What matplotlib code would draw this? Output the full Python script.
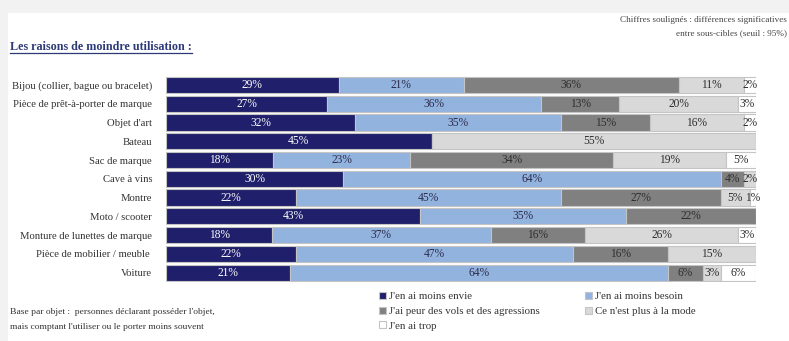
import matplotlib
matplotlib.use("Agg")
import matplotlib.pyplot as plt
from matplotlib.patches import Rectangle
from matplotlib.lines import Line2D
import numpy as np

categories = [
    "Bijou (collier, bague ou bracelet)",
    "Pièce de prêt-à-porter de marque",
    "Objet d'art",
    "Bateau",
    "Sac de marque",
    "Cave à vins",
    "Montre",
    "Moto / scooter",
    "Monture de lunettes de marque",
    "Pièce de mobilier / meuble ",
    "Voiture",
]
series_names = [
    "J'en ai moins envie",
    "J'en ai moins besoin",
    "J'ai peur des vols et des agressions",
    "Ce n'est plus à la mode",
    "J'en ai trop",
]
envie = [29, 27, 32, 45, 18, 30, 22, 43, 18, 22, 21]
besoin = [21, 36, 35, 0, 23, 64, 45, 35, 37, 47, 64]
peur = [36, 13, 15, 0, 34, 4, 27, 22, 16, 16, 6]
mode = [11, 20, 16, 55, 19, 2, 5, 0, 26, 15, 3]
trop = [2, 3, 2, 0, 5, 0, 1, 0, 3, 0, 6]

colors = ["#1f1f6b", "#93b3df", "#808080", "#d9d9d9", "#ffffff"]
text_colors = ["#ffffff", "#2b2b4a", "#2e2e2e", "#2e2e2e", "#2e2e2e"]

serif = ["Liberation Serif", "DejaVu Serif"]
plt.rcParams["font.family"] = serif

W, H = 789, 341
fig = plt.figure(figsize=(W / 100, H / 100), dpi=100)
fig.patch.set_facecolor("#f2f2f2")
bg = Rectangle((8 / W, 0), 1, 1 - 13 / H, transform=fig.transFigure,
               facecolor="white", edgecolor="none", zorder=-10)
fig.add_artist(bg)

ax_left, ax_right = 166 / W, 756 / W
ax_top, ax_bot = 1 - 75.6 / H, 1 - 282 / H
ax = fig.add_axes([ax_left, ax_bot, ax_right - ax_left, ax_top - ax_bot])
ax.set_facecolor("none")
ax.set_zorder(1)

data = np.array([envie, besoin, peur, mode, trop], dtype=float)
totals = data.sum(axis=0)
widths = data / totals * 100
y = np.arange(len(categories))
left = np.zeros(len(categories))
for i in range(5):
    bars = ax.barh(y, widths[i], left=left, height=0.86, color=colors[i],
                   edgecolor="#c4c4c4", linewidth=0.8, label=series_names[i])
    for j, b in enumerate(bars):
        v = data[i, j]
        if v > 0:
            ax.text(left[j] + widths[i, j] / 2, y[j], f"{int(v)}%", ha="center",
                    va="center", fontsize=8.3, color=text_colors[i])
    left += widths[i]

ax.set_xlim(0, 100)
ax.set_ylim(len(categories) - 0.5, -0.5)
ax.set_yticks(y)
ax.set_yticklabels(categories, fontsize=7.7, color="#333333")
ax.tick_params(axis="y", length=0, pad=10)
ax.set_xticks([])
for s in ax.spines.values():
    s.set_visible(False)

# Title with underline
t = fig.text(10 / W, 1 - 47 / H, "Les raisons de moindre utilisation :", fontsize=8.7,
             fontweight="bold", color="#2c3a78", ha="left", va="center")
fig.canvas.draw()
bb = t.get_window_extent(fig.canvas.get_renderer())
fig.add_artist(Line2D([bb.x0 / W, bb.x1 / W], [(bb.y0 + 0.5) / H, (bb.y0 + 0.5) / H],
                      transform=fig.transFigure, color="#2c3a78", linewidth=0.9))

fig.text(787 / W, 1 - 20 / H, "Chiffres soulignés : différences significatives",
         fontsize=6.6, color="#444444", ha="right", va="center")
fig.text(787 / W, 1 - 33 / H, "entre sous-cibles (seuil : 95%)",
         fontsize=6.6, color="#444444", ha="right", va="center")
fig.text(10 / W, 1 - 312 / H, "Base par objet :  personnes déclarant posséder l'objet,",
         fontsize=6.8, color="#333333", ha="left", va="center")
fig.text(10 / W, 1 - 327 / H, "mais comptant l'utiliser ou le porter moins souvent",
         fontsize=6.8, color="#333333", ha="left", va="center")

handles, labels = ax.get_legend_handles_labels()
idx = [0, 2, 4, 1, 3]
leg = fig.legend([handles[k] for k in idx], [labels[k] for k in idx],
                 loc="upper left", bbox_to_anchor=(379 / W, 1 - 292 / H), ncol=2,
                 frameon=False, fontsize=7.8, handlelength=0.6, handleheight=0.6,
                 handletextpad=0.3, columnspacing=4.2, labelspacing=0.5,
                 borderaxespad=0, borderpad=0)
for txt in leg.get_texts():
    txt.set_color("#333333")

fig.savefig("out.png", dpi=100, facecolor=fig.get_facecolor())
